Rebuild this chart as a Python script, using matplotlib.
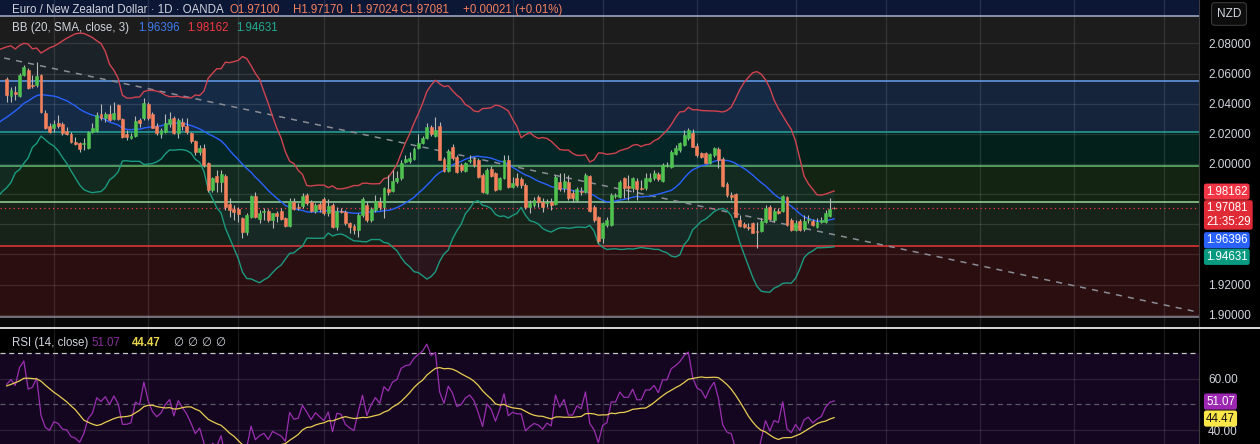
import numpy as np
import pandas as pd
import matplotlib
matplotlib.use("Agg")
import matplotlib.pyplot as plt

plt.rcParams['font.family'] = ['Liberation Sans', 'DejaVu Sans']

# daily EUR/NZD candles (oldest first)
opens = [
    2.0564, 2.0451, 2.0478, 2.0451, 2.0590, 2.0624, 2.0524, 2.0524, 2.0590, 2.0338,
    2.0252, 2.0239, 2.0272, 2.0265, 2.0219, 2.0199, 2.0146, 2.0139, 2.0133, 2.0106,
    2.0212, 2.0219, 2.0332, 2.0305, 2.0332, 2.0299, 2.0392, 2.0299, 2.0199, 2.0173,
    2.0186, 2.0292, 2.0305, 2.0398, 2.0332, 2.0252, 2.0199, 2.0212, 2.0265, 2.0305,
    2.0206, 2.0279, 2.0252, 2.0206, 2.0153, 2.0080, 2.0106, 2.0007, 1.9827, 1.9920,
    1.9881, 1.9920, 1.9735, 1.9701, 1.9701, 1.9641, 1.9549, 1.9648, 1.9788, 1.9635,
    1.9681, 1.9688, 1.9628, 1.9675, 1.9688, 1.9641, 1.9588, 1.9748, 1.9715, 1.9721,
    1.9794, 1.9748, 1.9688, 1.9735, 1.9768, 1.9675, 1.9728, 1.9582, 1.9688, 1.9681,
    1.9608, 1.9588, 1.9562, 1.9661, 1.9728, 1.9628, 1.9695, 1.9748, 1.9715, 1.9834,
    1.9821, 1.9887, 1.9907, 2.0014, 2.0020, 2.0033, 2.0106, 2.0139, 2.0173, 2.0246,
    2.0186, 2.0252, 2.0033, 1.9954, 2.0113, 2.0047, 1.9993, 1.9954, 2.0020, 2.0033,
    2.0027, 1.9927, 1.9807, 1.9967, 1.9940, 1.9834, 1.9907, 2.0027, 1.9847, 1.9907,
    1.9900, 1.9861, 1.9715, 1.9728, 1.9781, 1.9748, 1.9741, 1.9748, 1.9735, 1.9881,
    1.9841, 1.9881, 1.9807, 1.9761, 1.9821, 1.9814, 1.9920, 1.9715, 1.9648, 1.9509,
    1.9595, 1.9595, 1.9788, 1.9781, 1.9907, 1.9854, 1.9841, 1.9887, 1.9841, 1.9841,
    1.9887, 1.9907, 1.9934, 1.9887, 1.9987, 1.9980, 2.0066, 2.0093, 2.0126, 2.0173,
    2.0206, 2.0119, 2.0073, 2.0073, 2.0007, 2.0060, 2.0100, 2.0033, 1.9867, 1.9794,
    1.9801, 1.9628, 1.9602, 1.9582, 1.9608, 1.9555, 1.9555, 1.9615, 1.9715, 1.9628,
    1.9688, 1.9688, 1.9781, 1.9628, 1.9562, 1.9621, 1.9569, 1.9628, 1.9621, 1.9582,
    1.9615, 1.9615, 1.9655, 1.9710,
]
highs = [
    2.0577, 2.0511, 2.0518, 2.0604, 2.0657, 2.0637, 2.0590, 2.0677, 2.0597, 2.0358,
    2.0272, 2.0292, 2.0325, 2.0279, 2.0246, 2.0212, 2.0179, 2.0146, 2.0173, 2.0219,
    2.0272, 2.0345, 2.0398, 2.0345, 2.0392, 2.0412, 2.0398, 2.0305, 2.0226, 2.0206,
    2.0319, 2.0305, 2.0438, 2.0412, 2.0345, 2.0272, 2.0239, 2.0332, 2.0345, 2.0319,
    2.0305, 2.0305, 2.0305, 2.0212, 2.0159, 2.0126, 2.0133, 2.0013, 1.9914, 1.9960,
    1.9960, 1.9934, 1.9775, 1.9728, 1.9715, 1.9648, 1.9675, 1.9794, 1.9814, 1.9695,
    1.9708, 1.9701, 1.9675, 1.9688, 1.9708, 1.9648, 1.9775, 1.9775, 1.9741, 1.9807,
    1.9807, 1.9761, 1.9741, 1.9748, 1.9781, 1.9768, 1.9741, 1.9715, 1.9708, 1.9695,
    1.9615, 1.9602, 1.9675, 1.9781, 1.9748, 1.9715, 1.9794, 1.9781, 1.9847, 1.9927,
    1.9960, 1.9954, 2.0027, 2.0060, 2.0080, 2.0113, 2.0199, 2.0186, 2.0272, 2.0259,
    2.0312, 2.0279, 2.0047, 2.0100, 2.0133, 2.0060, 2.0007, 2.0014, 2.0060, 2.0047,
    2.0040, 1.9940, 1.9973, 1.9987, 1.9947, 1.9914, 2.0060, 2.0060, 1.9914, 1.9940,
    1.9914, 1.9874, 1.9761, 1.9781, 1.9794, 1.9775, 1.9768, 1.9775, 1.9927, 1.9940,
    1.9940, 1.9927, 1.9827, 1.9847, 1.9847, 1.9940, 1.9927, 1.9728, 1.9655, 1.9615,
    1.9648, 1.9807, 1.9807, 1.9894, 1.9914, 1.9927, 1.9914, 1.9907, 1.9894, 1.9940,
    1.9940, 1.9960, 1.9947, 2.0007, 2.0014, 2.0093, 2.0126, 2.0146, 2.0226, 2.0239,
    2.0232, 2.0139, 2.0080, 2.0080, 2.0073, 2.0113, 2.0113, 2.0047, 1.9881, 1.9814,
    1.9807, 1.9661, 1.9615, 1.9608, 1.9615, 1.9615, 1.9641, 1.9728, 1.9728, 1.9708,
    1.9708, 1.9794, 1.9788, 1.9641, 1.9628, 1.9635, 1.9661, 1.9661, 1.9635, 1.9641,
    1.9648, 1.9695, 1.9775, 1.9717,
]
lows = [
    2.0412, 2.0412, 2.0425, 2.0445, 2.0584, 2.0498, 2.0504, 2.0511, 2.0338, 2.0232,
    2.0206, 2.0212, 2.0239, 2.0193, 2.0193, 2.0139, 2.0126, 2.0080, 2.0093, 2.0100,
    2.0206, 2.0212, 2.0292, 2.0279, 2.0285, 2.0292, 2.0292, 2.0173, 2.0159, 2.0166,
    2.0179, 2.0246, 2.0292, 2.0292, 2.0239, 2.0193, 2.0173, 2.0206, 2.0246, 2.0199,
    2.0173, 2.0226, 2.0199, 2.0139, 2.0060, 2.0060, 1.9980, 1.9814, 1.9814, 1.9814,
    1.9814, 1.9695, 1.9648, 1.9628, 1.9615, 1.9509, 1.9529, 1.9641, 1.9641, 1.9608,
    1.9628, 1.9615, 1.9575, 1.9615, 1.9628, 1.9582, 1.9582, 1.9695, 1.9695, 1.9708,
    1.9728, 1.9681, 1.9675, 1.9681, 1.9661, 1.9655, 1.9575, 1.9562, 1.9675, 1.9595,
    1.9542, 1.9535, 1.9515, 1.9648, 1.9615, 1.9615, 1.9681, 1.9695, 1.9641, 1.9794,
    1.9814, 1.9874, 1.9894, 2.0007, 2.0007, 2.0027, 2.0100, 2.0133, 2.0166, 2.0186,
    2.0179, 2.0040, 1.9947, 1.9947, 2.0027, 1.9940, 1.9947, 1.9947, 2.0007, 1.9980,
    1.9907, 1.9807, 1.9801, 1.9914, 1.9821, 1.9827, 1.9900, 1.9841, 1.9841, 1.9847,
    1.9841, 1.9701, 1.9675, 1.9715, 1.9715, 1.9681, 1.9715, 1.9695, 1.9728, 1.9821,
    1.9814, 1.9761, 1.9748, 1.9748, 1.9794, 1.9807, 1.9681, 1.9615, 1.9476, 1.9476,
    1.9582, 1.9588, 1.9775, 1.9775, 1.9775, 1.9761, 1.9814, 1.9761, 1.9827, 1.9827,
    1.9881, 1.9894, 1.9887, 1.9881, 1.9980, 1.9974, 2.0060, 2.0080, 2.0119, 2.0159,
    2.0113, 2.0047, 2.0040, 2.0007, 2.0000, 2.0047, 1.9974, 1.9847, 1.9781, 1.9761,
    1.9648, 1.9582, 1.9575, 1.9562, 1.9542, 1.9443, 1.9549, 1.9608, 1.9628, 1.9615,
    1.9668, 1.9681, 1.9588, 1.9555, 1.9555, 1.9555, 1.9555, 1.9608, 1.9588, 1.9575,
    1.9608, 1.9608, 1.9648, 1.9702,
]
closes = [
    2.0458, 2.0491, 2.0464, 2.0590, 2.0644, 2.0504, 2.0518, 2.0584, 2.0345, 2.0239,
    2.0212, 2.0265, 2.0252, 2.0206, 2.0199, 2.0146, 2.0133, 2.0100, 2.0139, 2.0212,
    2.0239, 2.0325, 2.0305, 2.0332, 2.0292, 2.0338, 2.0299, 2.0179, 2.0179, 2.0186,
    2.0285, 2.0272, 2.0405, 2.0305, 2.0239, 2.0206, 2.0226, 2.0272, 2.0299, 2.0206,
    2.0292, 2.0252, 2.0212, 2.0153, 2.0080, 2.0106, 1.9993, 1.9827, 1.9907, 1.9881,
    1.9934, 1.9715, 1.9695, 1.9681, 1.9668, 1.9549, 1.9661, 1.9788, 1.9648, 1.9675,
    1.9688, 1.9628, 1.9675, 1.9655, 1.9635, 1.9588, 1.9754, 1.9701, 1.9708, 1.9788,
    1.9741, 1.9688, 1.9728, 1.9701, 1.9675, 1.9721, 1.9582, 1.9688, 1.9681, 1.9608,
    1.9582, 1.9562, 1.9661, 1.9768, 1.9628, 1.9701, 1.9754, 1.9715, 1.9841, 1.9814,
    1.9887, 1.9907, 2.0007, 2.0033, 2.0040, 2.0100, 2.0139, 2.0173, 2.0246, 2.0199,
    2.0226, 2.0027, 1.9954, 2.0086, 2.0040, 1.9947, 1.9960, 2.0007, 2.0027, 1.9993,
    1.9914, 1.9814, 1.9960, 1.9920, 1.9827, 1.9907, 2.0027, 1.9847, 1.9874, 1.9861,
    1.9861, 1.9715, 1.9741, 1.9761, 1.9748, 1.9715, 1.9748, 1.9728, 1.9914, 1.9834,
    1.9887, 1.9775, 1.9775, 1.9834, 1.9814, 1.9927, 1.9688, 1.9628, 1.9489, 1.9608,
    1.9628, 1.9794, 1.9794, 1.9881, 1.9841, 1.9841, 1.9907, 1.9834, 1.9834, 1.9907,
    1.9907, 1.9940, 1.9900, 1.9993, 1.9993, 2.0080, 2.0106, 2.0139, 2.0193, 2.0226,
    2.0113, 2.0060, 2.0047, 2.0007, 2.0066, 2.0106, 2.0027, 1.9854, 1.9794, 1.9781,
    1.9648, 1.9588, 1.9582, 1.9575, 1.9542, 1.9549, 1.9621, 1.9708, 1.9635, 1.9688,
    1.9675, 1.9788, 1.9595, 1.9562, 1.9608, 1.9562, 1.9621, 1.9635, 1.9595, 1.9615,
    1.9628, 1.9675, 1.9701, 1.9708,
]
# closes before the visible window, only used to warm up BB / RSI
warmup_closes = [
    2.004, 2.000, 2.006, 2.001, 2.007, 2.002, 2.008, 2.003, 2.009, 2.004, 2.010,
    2.008, 2.003, 2.014, 2.009, 2.020, 2.013, 2.026, 2.020, 2.031, 2.028, 2.033,
    2.040, 2.046, 2.041, 2.050, 2.046, 2.052, 2.047, 2.047,
]

# horizontal zones drawn on the chart (prices, top to bottom)
zone_levels = [2.0982, 2.0551, 2.0212, 1.9987, 1.9748, 1.9456, 1.8985]
# dashed trend line, (bar index, price) end points
trend_bars = [-0.6, 277.7]
trend_prices = [2.0703, 1.9018]
month_bars = [11, 33, 54, 74, 96, 118, 139, 161, 184, 205, 227, 249, 270]
price_ticks = [1.90, 1.92, 1.94, 1.96, 1.98, 2.00, 2.02, 2.04, 2.06, 2.08]
hidden_ticks = [1.94, 1.96, 1.98]        # covered by the value tags
rsi_ticks = [40, 60]

ohlc_last = ["1.97100", "1.97170", "1.97024", "1.97081"]
change_text = "+0.00021 (+0.01%)"
bb_last = [1.96396, 1.98162, 1.94631]   # basis, upper, lower
rsi_last = [51.07, 44.47]                # rsi, rsi-based MA
last_price = 1.97081
countdown = "21:35:29"

# indicators
bb_len, bb_mult = 20, 3
rsi_len, ma_len = 14, 14
allc = pd.Series(warmup_closes + closes)
bars_all = np.arange(len(allc)) - len(warmup_closes)
basis = allc.rolling(bb_len).mean()
dev = allc.rolling(bb_len).std(ddof=0)
upper = basis + bb_mult * dev
lower = basis - bb_mult * dev
delta = allc.diff()
gain = delta.clip(lower=0).ewm(alpha=1 / rsi_len, adjust=False).mean()
loss = (-delta.clip(upper=0)).ewm(alpha=1 / rsi_len, adjust=False).mean()
rsi = 100 - 100 / (1 + gain / loss)
rsi_ma = rsi.rolling(ma_len).mean()
show = bars_all >= -3

W, H = 1260, 444
fig = plt.figure(figsize=(W / 100, H / 100), dpi=100, facecolor='black')
ax = fig.add_axes([0, 117 / H, 1199 / W, 327 / H])
axr = fig.add_axes([0, 0, 1199 / W, 116 / H])

def fx(x):
    return x / W

def fy(y):
    return 1 - y / H

xlim = (-1.56, 278.1)
grid_kw = dict(color='white', alpha=0.11, lw=0.9)
fs = 8.3

# ---- price pane ----
ax.set_facecolor('black')
ax.set_xlim(*xlim)
ax.set_ylim(1.8918, 2.1088)
fills = ['#0c1736', '#1c1c1c', '#15243a', '#03201b', '#132413', '#172318', '#2b0e10', '#080808']
edges = [2.2] + zone_levels + [1.8]
for i, c in enumerate(fills):
    ax.axhspan(edges[i + 1], edges[i], color=c, lw=0, zorder=0)
line_cols = ['#a9b0cc', '#64a0f0', '#26a69a', '#66bb6a', '#9ad69a', '#e53935', '#8a8d95']
for lv, c in zip(zone_levels, line_cols):
    ax.axhline(lv, color=c, lw=1.1, zorder=1.5)

ax.set_yticks(price_ticks)
ax.set_xticks(month_bars)
ax.grid(True, **grid_kw)
ax.set_axisbelow(True)
ax.yaxis.tick_right()
ax.tick_params(axis='y', length=0, pad=6.5, labelcolor='#d1d4dc', labelsize=8.5)
ax.tick_params(axis='x', length=0, labelbottom=False)
ax.set_yticklabels(["" if t in hidden_ticks else f"{t:.5f}" for t in price_ticks])
for s in ['top', 'left', 'bottom']:
    ax.spines[s].set_visible(False)
ax.spines['right'].set_color('#3a3a3a')

ax.plot(trend_bars, trend_prices, color='#8a8d95', lw=1.1, dashes=(4, 4), zorder=2)

b = bars_all[show]
ax.fill_between(b, upper[show], lower[show], color='#2196f3', alpha=0.06, lw=0, zorder=1.6)
ax.plot(b, upper[show], color='#d04350', lw=1.0, zorder=2.2)
ax.plot(b, basis[show], color='#2962ff', lw=1.0, zorder=2.2)
ax.plot(b, lower[show], color='#1b9a80', lw=1.0, zorder=2.2)

ax.axhline(last_price, color='#f23645', lw=0.9, ls=(0, (1, 2.5)), zorder=2.1)

o = np.array(opens); h = np.array(highs); l = np.array(lows); c = np.array(closes)
x = np.arange(len(c))
up = c >= o
ax.vlines(x, l, h, color='#b8b8b8', lw=0.8, zorder=3)
ax.bar(x[up], c[up] - o[up], bottom=o[up], width=0.68, color='#4fc24f',
       edgecolor='#4fc24f', lw=0.4, zorder=4)
ax.bar(x[~up], c[~up] - o[~up], bottom=o[~up], width=0.68, color='#f5805c',
       edgecolor='#f5805c', lw=0.4, zorder=4)

# ---- RSI pane ----
axr.set_facecolor('black')
axr.set_xlim(*xlim)
axr.set_ylim(34.6, 79.6)
axr.axhspan(30, 70, color='#140620', lw=0, zorder=0)
axr.set_yticks(rsi_ticks)
axr.set_xticks(month_bars)
axr.grid(True, **grid_kw)
axr.set_axisbelow(True)
axr.yaxis.tick_right()
axr.tick_params(axis='y', length=0, pad=6.5, labelcolor='#d1d4dc', labelsize=8.5)
axr.tick_params(axis='x', length=0, labelbottom=False)
axr.set_yticklabels([f"{t:.2f}" for t in rsi_ticks])
for s in ['top', 'left', 'bottom']:
    axr.spines[s].set_visible(False)
axr.spines['right'].set_color('#3a3a3a')
axr.axhline(70, color='#c8c8c8', lw=0.9, dashes=(4, 3), zorder=1)
axr.axhline(50, color='#787b86', lw=0.9, dashes=(4, 3), alpha=0.7, zorder=1)
vis = bars_all >= 0
axr.plot(bars_all[vis], rsi[vis], color='#9a2fb0', lw=0.9, zorder=3)
axr.plot(bars_all[vis], rsi_ma[vis], color='#e8cc52', lw=0.9, zorder=3)

# pane separator
fig.add_artist(plt.Line2D([0, 1], [fy(327.5)] * 2, color='#d9d9d9', lw=1.4))

# ---- right-side value labels ----
def tag(axis, val, text, fc, tc='white', dy=0):
    axis.annotate(text, xy=(1.0, val), xycoords=('axes fraction', 'data'),
                  xytext=(7, dy), textcoords='offset pixels', ha='left', va='center',
                  fontsize=8.3, color=tc, annotation_clip=False, zorder=10,
                  linespacing=1.15,
                  bbox=dict(boxstyle='round,pad=0.18,rounding_size=0.2', fc=fc, ec='none'))

tag(ax, bb_last[1], f"{bb_last[1]:.5f}", '#f23645')
tag(ax, last_price, f"{last_price:.5f}\n{countdown}", '#e02a35', dy=-7)
tag(ax, bb_last[0], f"{bb_last[0]:.5f}", '#2962ff', dy=-22)
tag(ax, bb_last[2], f"{bb_last[2]:.5f}", '#089981', dy=-12)
tag(axr, rsi_last[0], f"{rsi_last[0]:.2f}", '#9c27b0')
tag(axr, rsi_last[1], f"{rsi_last[1]:.2f}", '#fbe64a', tc='#111111')

fig.text(fx(1229), fy(14), "NZD", ha='center', va='center', fontsize=8.5, color='#d1d4dc',
         bbox=dict(boxstyle='round,pad=0.45,rounding_size=0.3', fc='#0d0d0d', ec='#3a3a3a', lw=0.8))

# ---- header texts ----
txt = '#d1d4dc'
fig.text(fx(12), fy(10), "Euro / New Zealand Dollar · 1D · OANDA", color=txt, fontsize=fs, va='center')
col_chg = '#f5805c'
for xp, lab, v in zip([230, 293, 350, 399], "OHLC", ohlc_last):
    fig.text(fx(xp), fy(10), lab + v, color=col_chg, fontsize=fs, va='center')
fig.text(fx(463), fy(10), change_text, color=col_chg, fontsize=fs, va='center')

fig.text(fx(12), fy(28), "BB (20, SMA, close, 3)", color=txt, fontsize=fs, va='center')
for xp, v, cc in zip([138, 187, 236], bb_last, ['#3d7bf0', '#f23645', '#22ab94']):
    fig.text(fx(xp), fy(28), f"{v:.5f}", color=cc, fontsize=fs, va='center')

fig.text(fx(12), fy(343), "RSI (14, close)", color=txt, fontsize=fs, va='center')
fig.text(fx(91), fy(343), f"{rsi_last[0]:.2f}", color='#8a2f9e', fontsize=fs, va='center')
fig.text(fx(132), fy(343), f"{rsi_last[1]:.2f}", color='#e8d44d', fontsize=fs, va='center',
         fontweight='bold')
for xp in [173, 187, 201, 215]:
    fig.text(fx(xp), fy(343), "\u2205", color=txt, fontsize=fs, va='center')

fig.savefig("out.png", dpi=100, facecolor='black')
